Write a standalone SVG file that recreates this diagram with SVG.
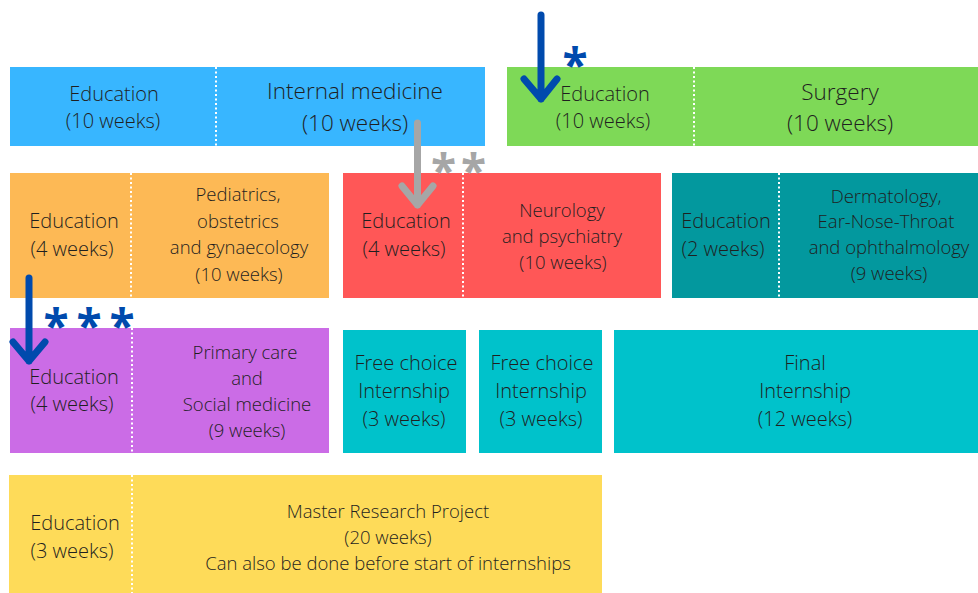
<svg xmlns="http://www.w3.org/2000/svg" width="978" height="593" viewBox="0 0 978 593">
<style>
text{font-family:"Open Sans","Noto Sans","Liberation Sans",sans-serif;font-weight:300;fill:#1f1f1f;text-anchor:middle}
.l{font-size:20px}.m{font-size:18.5px}.b{font-size:22.5px}.s{font-size:20px}
.div{stroke:#ffffff;stroke-width:2;stroke-dasharray:2 2.5}
.arr{fill:none;stroke-width:7;stroke-linecap:round;stroke-linejoin:round}
.ast{font-weight:700;font-size:46px}
</style>
<rect width="978" height="593" fill="#ffffff"/>
<g id="internal-medicine">
<rect x="10" y="67" width="475" height="79" fill="#38B6FF"/>
<line class="div" x1="216" y1="67" x2="216" y2="146"/>
<text class="s" x="114" y="101">Education</text>
<text class="s" x="113" y="128">(10 weeks)</text>
<text class="b" x="355" y="99">Internal medicine</text>
<text class="b" x="355" y="131">(10 weeks)</text>
</g>
<g id="surgery">
<rect x="507" y="67" width="471" height="79" fill="#7ED957"/>
<line class="div" x1="694" y1="67" x2="694" y2="146"/>
<text class="s" x="605" y="101">Education</text>
<text class="s" x="603" y="128">(10 weeks)</text>
<text class="b" x="840" y="100">Surgery</text>
<text class="b" x="840" y="131">(10 weeks)</text>
</g>
<g id="pediatrics">
<rect x="10" y="173" width="319" height="125" fill="#FDB955"/>
<line class="div" x1="131" y1="173" x2="131" y2="298"/>
<text class="l" x="74" y="228">Education</text>
<text class="l" x="72" y="256">(4 weeks)</text>
<text class="m" x="238" y="201">Pediatrics,</text>
<text class="m" x="238" y="228">obstetrics</text>
<text class="m" x="239" y="254">and gynaecology</text>
<text class="m" x="239" y="281">(10 weeks)</text>
</g>
<g id="neurology">
<rect x="343" y="173" width="318" height="125" fill="#FF5757"/>
<line class="div" x1="463" y1="173" x2="463" y2="298"/>
<text class="l" x="406" y="228">Education</text>
<text class="l" x="404" y="256">(4 weeks)</text>
<text class="m" x="562" y="217">Neurology</text>
<text class="m" x="562" y="243">and psychiatry</text>
<text class="m" x="563" y="269">(10 weeks)</text>
</g>
<g id="dermatology">
<rect x="672" y="173" width="306" height="125" fill="#03989E"/>
<line class="div" x1="779" y1="173" x2="779" y2="298"/>
<text class="l" x="726" y="228">Education</text>
<text class="l" x="723" y="256">(2 weeks)</text>
<text class="m" x="886" y="203">Dermatology,</text>
<text class="m" x="886" y="228">Ear-Nose-Throat</text>
<text class="m" x="889" y="254">and ophthalmology</text>
<text class="m" x="889" y="280">(9 weeks)</text>
</g>
<g id="primary-care">
<rect x="10" y="328" width="319" height="125" fill="#CB6CE6"/>
<line class="div" x1="132" y1="328" x2="132" y2="453"/>
<text class="l" x="74" y="384">Education</text>
<text class="l" x="72" y="411">(4 weeks)</text>
<text class="m" x="245" y="359">Primary care</text>
<text class="m" x="247" y="385">and</text>
<text class="m" x="247" y="411">Social medicine</text>
<text class="m" x="247" y="437">(9 weeks)</text>
</g>
<g id="free-choice-1">
<rect x="343" y="330" width="123" height="123" fill="#00C2CB"/>
<text class="l" x="406" y="370">Free choice</text>
<text class="l" x="404" y="398">Internship</text>
<text class="l" x="404" y="426">(3 weeks)</text>
</g>
<g id="free-choice-2">
<rect x="479" y="330" width="123" height="123" fill="#00C2CB"/>
<text class="l" x="542" y="370">Free choice</text>
<text class="l" x="541" y="398">Internship</text>
<text class="l" x="541" y="426">(3 weeks)</text>
</g>
<g id="final-internship">
<rect x="614" y="330" width="364" height="123" fill="#00C2CB"/>
<text class="l" x="805" y="370">Final</text>
<text class="l" x="805" y="398">Internship</text>
<text class="l" x="805" y="426">(12 weeks)</text>
</g>
<g id="research">
<rect x="9" y="475" width="593" height="118" fill="#FEDB59"/>
<line class="div" x1="132" y1="475" x2="132" y2="593"/>
<text class="l" x="75" y="530">Education</text>
<text class="l" x="72" y="558">(3 weeks)</text>
<text class="m" x="388" y="518">Master Research Project</text>
<text class="m" x="388" y="544">(20 weeks)</text>
<text class="m" x="388" y="570">Can also be done before start of internships</text>
</g>
<g id="connectors">
<path class="arr" stroke="#004AAD" d="M541 15V99M524 79L541 99L557 79"/>
<text class="ast" x="575" y="82" style="fill:#004AAD">*</text>
<path class="arr" stroke="#A6A6A6" d="M417.5 123V205M402 186L417.5 205L433 186"/>
<text class="ast" x="461" y="188" style="fill:#A6A6A6;letter-spacing:5px">**</text>
<path class="arr" stroke="#004AAD" d="M29 278V361M13 342L29 361L45 342"/>
<text class="ast" x="93" y="343" style="fill:#004AAD;letter-spacing:8px">***</text>
</g>
</svg>
